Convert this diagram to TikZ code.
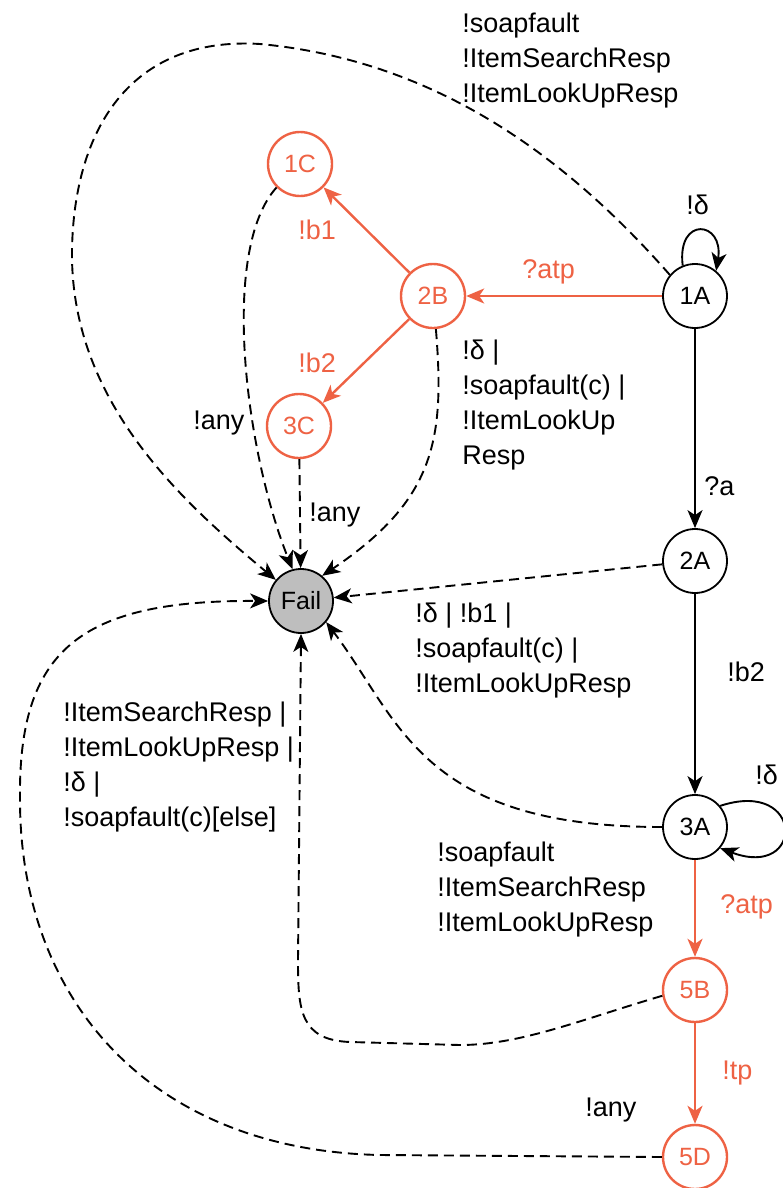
\documentclass[tikz,border=0pt]{standalone}
\usepackage{fontspec}
\setmainfont{Liberation Sans}
\usetikzlibrary{arrows.meta,positioning}
\definecolor{atred}{RGB}{238,98,68}
\definecolor{failgray}{RGB}{190,190,190}
\tikzset{
state/.style={
  circle,
  draw=black,
  line width=0.9pt,
  minimum size=32pt,
  inner sep=0pt,
  font=\fontsize{12.5}{15}\selectfont
  },
redstate/.style={state,draw=atred,text=atred,line width=1.2pt},
failstate/.style={state,fill=failgray},
lbl/.style={align=left,inner sep=0pt,anchor=west,font=\fontsize{13.5}{17.5}\selectfont},
redlbl/.style={lbl,text=atred},
trans/.style={->,line width=0.95pt},
redtrans/.style={->,draw=atred,line width=1.2pt},
failtrans/.style={->,dash pattern=on 5pt off 3pt,line width=0.95pt}
}

\begin{document}
\begin{tikzpicture}[x=0.5pt,y=-0.5pt,>={Stealth[length=9pt,width=7.5pt,inset=2.5pt]}]

\useasboundingbox (0,0) rectangle (782,1188);

\node[redstate] (st1C) at (300,164) {1C};
\node[redstate] (st2B) at (433,296) {2B};
\node[state]    (st1A) at (695,296) {1A};
\node[redstate] (st3C) at (299,426) {3C};
\node[failstate] (fail) at (301,601) {Fail};
\node[state]    (st2A) at (695,561) {2A};
\node[state]    (st3A) at (695,827) {3A};
\node[redstate] (st5B) at (695,990) {5B};
\node[redstate] (st5D) at (695,1157) {5D};

\draw[redtrans] (st1A) -- (st2B);
\draw[redtrans] (st2B) -- (st1C);
\draw[redtrans] (st2B) -- (st3C);
\draw[trans] (st1A) -- (st2A);
\draw[trans] (st2A) -- (st3A);
\draw[redtrans] (st3A) -- (st5B);
\draw[redtrans] (st5B) -- (st5D);

\draw[trans]
  (st1A.112) .. controls +(-6,-50) and +(8,-50) .. (st1A.50);
\draw[trans]
  (st3A.40) .. controls (805,778) and (805,880) .. (st3A.-40);

\draw[failtrans]
  (st1A.140) .. controls (560,150) and (430,60) .. (260,44)
  .. controls (130,36) and (74,130) .. (72,250)
  .. controls (70,400) and (180,500) .. (fail.140);
\draw[failtrans]
  (st1C.225) .. controls (220,250) and (245,450) .. (fail.105);
\draw[failtrans]
  (st3C) -- (fail);
\draw[failtrans]
  (st2B.-85) .. controls (445,440) and (435,500) .. (fail.50);
\draw[failtrans]
  (st2A) -- (fail);
\draw[failtrans]
  (st3A.west) .. controls (420,827) and (400,720) .. (fail.-40);
\draw[failtrans]
  (st5B.190) .. controls (580,1020) and (520,1045) .. (460,1045)
  -- (350,1042) .. controls (300,1040) and (298,1010) .. (298,960)
  -- (fail.south);
\draw[failtrans]
  (st5D.west) -- (380,1155) .. controls (150,1150) and (20,1000) .. (20,800)
  .. controls (18,650) and (80,600) .. (fail.west);

\node[lbl] (l1Afail) at (462,61)
  {!soapfault\\!ItemSearchResp\\!ItemLookUpResp};
\node[redlbl] (l1A2B) at (522,272) {?atp};
\node[lbl] (l1Aloop) at (686,205) {!δ};
\node[redlbl] (l2B1C) at (298,230) {!b1};
\node[redlbl] (l2B3C) at (298,363) {!b2};
\node[lbl] (l1Cfail) at (193,423) {!any};
\node[lbl] (l3Cfail) at (309,515) {!any};
\node[lbl] (l2Bfail) at (462,405)
  {!δ |\\!soapfault(c) |\\!ItemLookUp\\Resp};
\node[lbl] (l1A2A) at (704,486) {?a};
\node[lbl] (l2Afail) at (415,651)
  {!δ | !b1 |\\!soapfault(c) |\\!ItemLookUpResp};
\node[lbl] (l2A3A) at (727,672) {!b2};
\node[lbl] (l3Aloop) at (755,775) {!δ};
\node[lbl] (l3Afail) at (437,890)
  {!soapfault\\!ItemSearchResp\\!ItemLookUpResp};
\node[redlbl] (l3A5B) at (720,907) {?atp};
\node[redlbl] (l5B5D) at (722,1073) {!tp};
\node[lbl] (l5Dfail) at (585,1110) {!any};
\node[lbl] (l5Bfail) at (63,767)
  {!ItemSearchResp |\\!ItemLookUpResp |\\!δ |\\!soapfault(c)[else]};

\end{tikzpicture}
\end{document}
